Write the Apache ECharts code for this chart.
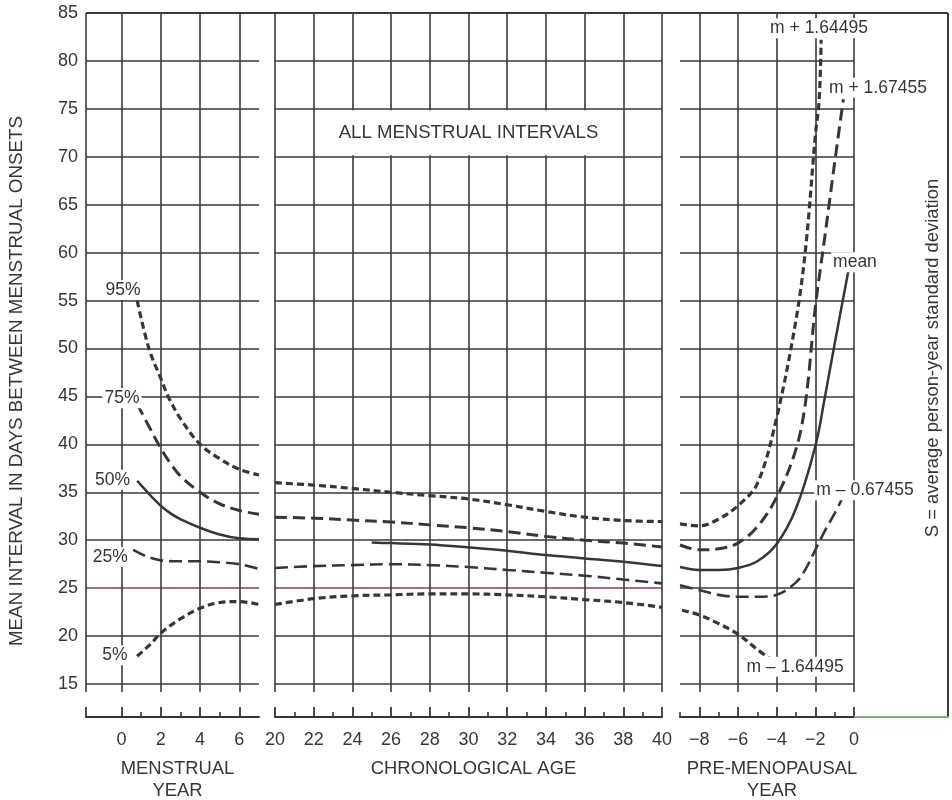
<!DOCTYPE html>
<html><head><meta charset="utf-8">
<script src="https://cdn.jsdelivr.net/npm/echarts@6/dist/echarts.min.js"></script>
<style>html,body{margin:0;padding:0;background:#fff}#c{width:952px;height:800px}</style>
</head><body><div id="c"></div>
<script>
// ---------- tick values ----------
const menGridTicks = [-1.8, 0, 2, 4, 6];
const menLabelTicks = [0, 2, 4, 6];
const menMinorTicks = [1, 3, 5];
const ageMinorTicks = [21, 23, 25, 27, 29, 31, 33, 35, 37, 39];
const preMajorTicks = [-8, -6, -4, -2, 0];
const preMinorTicks = [-9, -7, -5, -3, -1];

// ---------- menstrual year panel ----------
const p95MenX = [0.8, 1.4, 2, 2.4, 3, 4, 5, 6, 7];
const p95MenY = [55.0, 50.0, 46.9, 44.9, 42.7, 40.0, 38.5, 37.4, 36.8];
const p75MenX = [0.8, 1.5, 2, 2.5, 3, 4, 5, 6, 7];
const p75MenY = [44.2, 41.5, 39.6, 38.0, 36.7, 35.0, 33.8, 33.1, 32.7];
const p50MenX = [0.8, 1.2, 1.6, 2, 2.5, 3, 4, 5, 6, 7];
const p50MenY = [36.2, 35.3, 34.4, 33.6, 32.8, 32.2, 31.3, 30.6, 30.2, 30.1];
const p25MenX = [0.6, 1.3, 2, 3, 4, 5, 6, 7];
const p25MenY = [29.0, 28.3, 27.9, 27.8, 27.8, 27.7, 27.5, 27.0];
const p5MenX = [0.8, 1.5, 2, 3, 4, 5, 6, 7];
const p5MenY = [17.9, 19.2, 20.3, 21.8, 22.9, 23.5, 23.6, 23.3];

// ---------- chronological age panel ----------
const ageX = [20, 22, 24, 26, 28, 30, 32, 34, 36, 38, 40];
const p95AgeY = [36.0, 35.75, 35.4, 35.0, 34.65, 34.3, 33.7, 33.0, 32.4, 32.05, 31.95];
const p75AgeY = [32.4, 32.3, 32.1, 31.9, 31.6, 31.3, 30.9, 30.4, 30.0, 29.7, 29.3];
const p50AgeX = [25, 26, 28, 30, 32, 34, 36, 38, 40];
const p50AgeY = [29.75, 29.7, 29.55, 29.25, 28.9, 28.45, 28.1, 27.75, 27.3];
const p25AgeY = [27.1, 27.3, 27.4, 27.5, 27.4, 27.2, 26.9, 26.6, 26.3, 25.9, 25.5];
const p5AgeY = [23.3, 23.9, 24.2, 24.3, 24.4, 24.4, 24.3, 24.1, 23.8, 23.5, 23.0];

// ---------- pre-menopausal year panel ----------
const mp164X = [-9, -8, -7, -6, -5, -4, -3, -2.5, -2, -1.8, -1.7];
const mp164Y = [31.7, 31.5, 32.2, 33.6, 35.9, 42.8, 53.0, 60.5, 72.2, 76.0, 82.2];
const mp067X = [-9, -8, -7, -6, -5, -4, -3, -2.5, -2, -1.5, -1, -0.55];
const mp067Y = [29.5, 29.0, 29.1, 29.7, 31.4, 34.5, 39.5, 44.5, 54.3, 61.8, 69.4, 76.0];
const meanX = [-9, -8, -7, -6, -5, -4, -3, -2, -1.5, -1, -0.3];
const meanY = [27.2, 26.9, 26.9, 27.1, 27.8, 29.6, 33.3, 39.8, 45.0, 50.5, 58.0];
const mm067X = [-9, -8, -7, -6, -5, -4, -3, -2.5, -2, -1.5, -1, -0.5];
const mm067Y = [25.3, 24.8, 24.3, 24.1, 24.1, 24.3, 25.6, 27.0, 29.0, 31.0, 32.8, 34.8];
const mm164X = [-8.9, -8, -7, -6, -5, -4.25];
const mm164Y = [22.7, 22.2, 21.3, 20.2, 18.6, 17.5];

// ---------- texts ----------
const yTitle = 'MEAN INTERVAL IN DAYS BETWEEN MENSTRUAL ONSETS';
const sideNote = 'S = average person-year standard deviation';
const boxTitle = 'ALL MENSTRUAL INTERVALS';
const curveLabels = [
  { g: 0, x: 0.08, y: 56.1, t: '95%' },
  { g: 0, x: 0.03, y: 44.8, t: '75%' },
  { g: 0, x: -0.45, y: 36.3, t: '50%' },
  { g: 0, x: -0.57, y: 28.25, t: '25%' },
  { g: 0, x: -0.33, y: 18.0, t: '5%' },
  { g: 2, x: -1.81, y: 83.4, t: 'm + 1.64495' },
  { g: 2, x: 1.24, y: 77.2, t: 'm + 1.67455' },
  { g: 2, x: 0.05, y: 59.0, t: 'mean' },
  { g: 2, x: 0.57, y: 35.2, t: 'm \u2013 0.67455' },
  { g: 2, x: -3.05, y: 16.8, t: 'm \u2013 1.64495' }
];

// ---------- styles ----------
const INK = '#363636';
const GRID = '#3a3a3a';
const RED = '#8e3b46';
const FONT = '"Liberation Sans", Arial, sans-serif';
const SHORT = { type: [7, 4], width: 3.2 };
const MID = { type: [12, 6], width: 3 };
const LONG = { type: [13, 6], width: 2.6 };
const SOLID = { type: 'solid', width: 2.5 };

const grids = [
  { left: 86, top: 13, width: 173, height: 671, containLabel: false, outerBoundsMode: 'none' },
  { left: 275, top: 13, width: 387, height: 671, containLabel: false, outerBoundsMode: 'none' },
  { left: 680, top: 13, width: 174, height: 671, containLabel: false, outerBoundsMode: 'none' }
];
const ranges = [[-1.8, 7], [20, 40], [-9, 0]];
const yColorsRed = [GRID, GRID, RED, GRID, GRID, GRID, GRID, GRID, GRID, GRID, GRID, GRID, GRID, GRID, GRID];

function gridAxis(g, tickOpt) {
  return {
    type: 'value', gridIndex: g, min: ranges[g][0], max: ranges[g][1], position: 'bottom',
    axisLine: { show: false, onZero: false },
    axisTick: Object.assign({ show: true, length: 8, lineStyle: { color: GRID, width: 1.6 } }, tickOpt),
    axisLabel: { show: false },
    splitLine: { show: true, lineStyle: { color: GRID, width: 1.6 } }
  };
}
function majorAxis(g, tickOpt, labelOpt, name, gap) {
  return {
    type: 'value', gridIndex: g, min: ranges[g][0], max: ranges[g][1], position: 'bottom', offset: 33,
    axisLine: { show: true, onZero: false, lineStyle: { color: INK, width: 2 } },
    axisTick: Object.assign({ show: true, inside: true, length: 10, lineStyle: { color: INK, width: 1.8 } }, tickOpt),
    axisLabel: Object.assign({ show: true, margin: 14, fontSize: 18, color: INK, fontFamily: FONT }, labelOpt),
    splitLine: { show: false },
    name: name, nameLocation: 'middle', nameGap: gap,
    nameTextStyle: { fontSize: 18.4, color: INK, fontFamily: FONT, lineHeight: 22, padding: [0, 0, 0, 10] }
  };
}
function minorAxis(g, vals) {
  return {
    type: 'value', gridIndex: g, min: ranges[g][0], max: ranges[g][1], position: 'bottom', offset: 33,
    axisLine: { show: false, onZero: false },
    axisTick: { show: true, inside: true, length: 5, customValues: vals, lineStyle: { color: INK, width: 1.6 } },
    axisLabel: { show: false }, splitLine: { show: false }
  };
}
function yAx(g, showLabels, colors) {
  return {
    type: 'value', gridIndex: g, min: 15, max: 85, interval: 5,
    axisLine: { show: false }, axisTick: { show: false },
    axisLabel: { show: showLabels, fontSize: 18, color: INK, fontFamily: FONT, margin: 8 },
    splitLine: { show: true, lineStyle: { color: colors, width: 1.6 } }
  };
}
const minusFmt = v => String(v).replace('-', '\u2212');

const xAxes = [
  gridAxis(0, { customValues: menGridTicks }),
  majorAxis(0, { customValues: menGridTicks }, { customValues: menLabelTicks }, 'MENSTRUAL\nYEAR', 41),
  minorAxis(0, menMinorTicks),
  Object.assign(gridAxis(1, {}), { interval: 2 }),
  Object.assign(majorAxis(1, {}, {}, 'CHRONOLOGICAL AGE', 41), { interval: 2 }),
  minorAxis(1, ageMinorTicks),
  gridAxis(2, { customValues: preMajorTicks }),
  majorAxis(2, { customValues: preMajorTicks }, { customValues: preMajorTicks, formatter: minusFmt }, 'PRE-MENOPAUSAL\nYEAR', 41),
  minorAxis(2, preMinorTicks)
];
const yAxes = [yAx(0, true, yColorsRed), yAx(1, false, yColorsRed), yAx(2, false, GRID)];

function pairs(xs, ys) { return xs.map((x, i) => [x, ys[i]]); }
function line(name, g, xs, ys, style) {
  return {
    name: name, type: 'line', xAxisIndex: g * 3, yAxisIndex: g,
    data: pairs(xs, ys), showSymbol: false, symbol: 'none', smooth: 0.35,
    lineStyle: Object.assign({ color: INK, cap: 'butt' }, style), silent: true, z: 3
  };
}
const series = [
  line('95%', 0, p95MenX, p95MenY, SHORT),
  line('75%', 0, p75MenX, p75MenY, MID),
  line('50%', 0, p50MenX, p50MenY, SOLID),
  line('25%', 0, p25MenX, p25MenY, LONG),
  line('5%', 0, p5MenX, p5MenY, SHORT),
  line('95% age', 1, ageX, p95AgeY, SHORT),
  line('75% age', 1, ageX, p75AgeY, MID),
  line('50% age', 1, p50AgeX, p50AgeY, SOLID),
  line('25% age', 1, ageX, p25AgeY, LONG),
  line('5% age', 1, ageX, p5AgeY, SHORT),
  line('m+1.64495S', 2, mp164X, mp164Y, SHORT),
  line('m+0.67455S', 2, mp067X, mp067Y, MID),
  line('mean', 2, meanX, meanY, SOLID),
  line('m-0.67455S', 2, mm067X, mm067Y, LONG),
  line('m-1.64495S', 2, mm164X, mm164Y, SHORT)
];

const chart = echarts.init(document.getElementById('c'), null, { renderer: 'canvas' });
chart.setOption({
  animation: false,
  backgroundColor: '#fff',
  textStyle: { fontFamily: FONT },
  grid: grids,
  xAxis: xAxes,
  yAxis: yAxes,
  series: series
});

function px(g, x, y) { return chart.convertToPixel({ xAxisIndex: g * 3, yAxisIndex: g }, [x, y]); }
const topLeft = px(0, ranges[0][0], 85);
const bottomY = px(0, 0, 15)[1] + 33;
const rightEnd = px(2, 0, 85);
const boxA = px(1, 22, 75), boxB = px(1, 38, 70);
const graphics = [
  { type: 'line', z: 10, shape: { x1: topLeft[0], y1: topLeft[1], x2: 948, y2: topLeft[1] }, style: { stroke: GRID, lineWidth: 2 } },
  { type: 'line', z: 10, shape: { x1: 948, y1: topLeft[1], x2: 948, y2: bottomY }, style: { stroke: GRID, lineWidth: 2 } },
  { type: 'line', z: 10, shape: { x1: rightEnd[0], y1: bottomY, x2: 949, y2: bottomY }, style: { stroke: '#6dbb5a', lineWidth: 2 } },
  { type: 'rect', z: 5, shape: { x: boxA[0] + 1.5, y: boxA[1] + 1.5, width: boxB[0] - boxA[0] - 3, height: boxB[1] - boxA[1] - 3 }, style: { fill: '#fff' } },
  { type: 'text', z: 11, x: (boxA[0] + boxB[0]) / 2, y: (boxA[1] + boxB[1]) / 2, style: { text: boxTitle, fontSize: 18.6, fill: INK, fontFamily: FONT, align: 'center', verticalAlign: 'middle' } },
  { type: 'text', z: 11, x: 17, y: 381, rotation: Math.PI / 2, style: { text: yTitle, fontSize: 18.8, fill: INK, fontFamily: FONT, align: 'center', verticalAlign: 'middle' } },
  { type: 'text', z: 11, x: 933, y: 358, rotation: Math.PI / 2, style: { text: sideNote, fontSize: 18.4, fill: INK, fontFamily: FONT, align: 'center', verticalAlign: 'middle' } }
];
curveLabels.forEach(l => {
  const p = px(l.g, l.x, l.y);
  graphics.push({ type: 'text', z: 11, x: p[0], y: p[1], style: { text: l.t, fontSize: 17.5, fill: INK, fontFamily: FONT, align: 'center', verticalAlign: 'middle', backgroundColor: '#fff', padding: [1, 2] } });
});
chart.setOption({ graphic: graphics });
</script></body></html>
